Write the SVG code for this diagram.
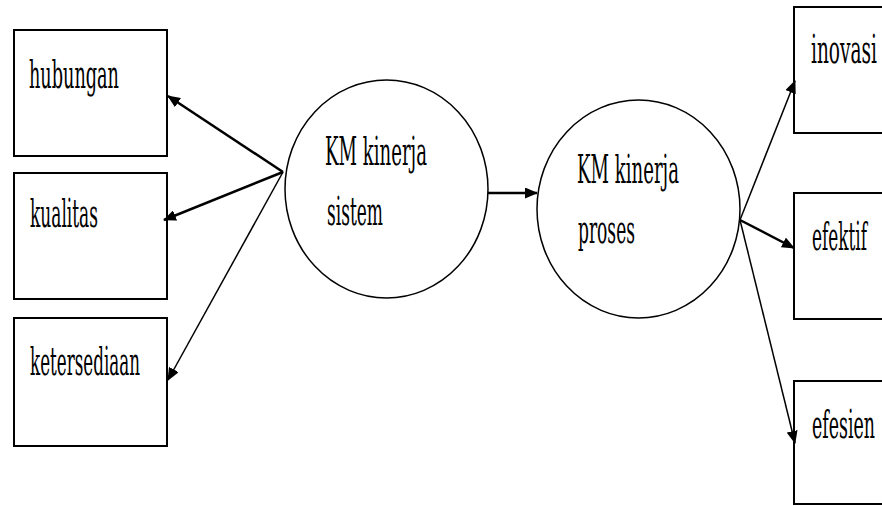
<svg xmlns="http://www.w3.org/2000/svg" width="882" height="506" viewBox="0 0 882 506">
<style>
.box{fill:#fff;stroke:#000;stroke-width:2}
.ell{fill:#fff;stroke:#000;stroke-width:1.5}
.t{font-family:"DejaVu Serif","Liberation Serif",serif;font-size:20px;fill:#000}
.c{fill:none;stroke:#000}
.thick{stroke-width:2.5}
.thin{stroke-width:1.5}
</style>
<defs>
<marker id="ah" viewBox="0 0 13 11" refX="12" refY="5.5" markerWidth="13" markerHeight="11" markerUnits="userSpaceOnUse" orient="auto">
<path d="M0,0 L13,5.5 L0,11 z" fill="#000"/>
</marker>
</defs>
<rect width="882" height="506" fill="#fff"/>
<g id="hubungan"><rect class="box" x="14" y="30" width="153" height="126"/><text class="t" transform="matrix(1 0 0 1.95 29 88)" textLength="90" lengthAdjust="spacingAndGlyphs">hubungan</text></g>
<g id="kualitas"><rect class="box" x="14" y="173" width="153" height="126"/><text class="t" transform="matrix(1 0 0 1.95 30 227)" textLength="68" lengthAdjust="spacingAndGlyphs">kualitas</text></g>
<g id="ketersediaan"><rect class="box" x="14" y="318" width="153" height="128"/><text class="t" transform="matrix(1 0 0 1.95 30 375)" textLength="110" lengthAdjust="spacingAndGlyphs">ketersediaan</text></g>
<g id="sistem"><ellipse class="ell" cx="386.5" cy="189" rx="101.5" ry="109"/><text class="t" transform="matrix(1 0 0 1.95 325 165)" textLength="102" lengthAdjust="spacingAndGlyphs">KM kinerja</text><text class="t" transform="matrix(1 0 0 1.95 327 225)" textLength="56" lengthAdjust="spacingAndGlyphs">sistem</text></g>
<g id="proses"><ellipse class="ell" cx="638.5" cy="209" rx="101.5" ry="109"/><text class="t" transform="matrix(1 0 0 1.95 577 183)" textLength="102" lengthAdjust="spacingAndGlyphs">KM kinerja</text><text class="t" transform="matrix(1 0 0 1.95 578 243)" textLength="57" lengthAdjust="spacingAndGlyphs">proses</text></g>
<g id="inovasi"><rect class="box" x="794" y="7" width="92" height="126"/><text class="t" transform="matrix(1 0 0 1.95 811 63)" textLength="66" lengthAdjust="spacingAndGlyphs">inovasi</text></g>
<g id="efektif"><rect class="box" x="794" y="193" width="92" height="126"/><text class="t" transform="matrix(1 0 0 1.95 812 250)" textLength="55" lengthAdjust="spacingAndGlyphs">efektif</text></g>
<g id="efesien"><rect class="box" x="794" y="381" width="92" height="123"/><text class="t" transform="matrix(1 0 0 1.95 812 438)" textLength="63" lengthAdjust="spacingAndGlyphs">efesien</text></g>
<g id="connectors">
<line class="c thick" x1="283" y1="172" x2="168" y2="96" marker-end="url(#ah)"/>
<line class="c thick" x1="283" y1="172" x2="164" y2="220" marker-end="url(#ah)"/>
<line class="c thin" x1="283" y1="172" x2="168" y2="380" marker-end="url(#ah)"/>
<line class="c thick" x1="488" y1="193" x2="537" y2="193" marker-end="url(#ah)"/>
<line class="c thin" x1="740" y1="220" x2="795" y2="81" marker-end="url(#ah)"/>
<line class="c thick" x1="740" y1="220" x2="794" y2="248" marker-end="url(#ah)"/>
<line class="c thin" x1="740" y1="220" x2="795" y2="443" marker-end="url(#ah)"/>
</g>
</svg>
